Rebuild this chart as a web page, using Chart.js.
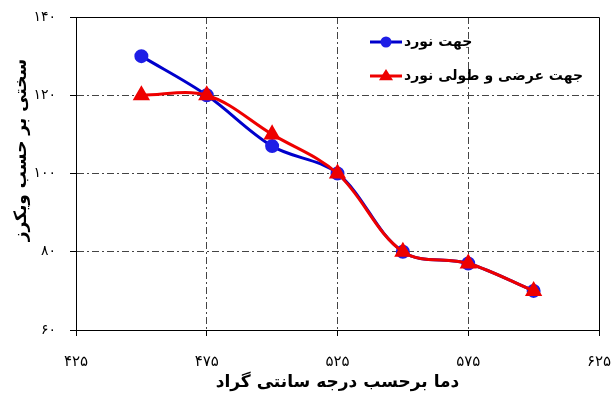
<!DOCTYPE html>
<html>
<head>
<meta charset="utf-8">
<script src="https://cdn.jsdelivr.net/npm/chart.js@4"></script>
<style>
  html, body { margin: 0; padding: 0; background: #fff; }
  #c { display: block; }
</style>
</head>
<body>
<canvas id="c" width="613" height="403"></canvas>
<script>
// ---- data ----
const temperatures = [450, 475, 500, 525, 550, 575, 600];
const rollingDirection = [130, 120, 107, 100, 80, 77, 70];
const transverseLongDirection = [120, 120, 110, 100, 80, 77, 70];
const seriesNames = ['جهت نورد', 'جهت عرضی و طولی نورد'];
const xTickValues = [425, 475, 525, 575, 625];
const xTickLabels = ['۴۲۵', '۴۷۵', '۵۲۵', '۵۷۵', '۶۲۵'];
const yTickValues = [60, 80, 100, 120, 140];
const yTickLabels = ['۶۰', '۸۰', '۱۰۰', '۱۲۰', '۱۴۰'];
const xTitle = 'دما برحسب درجه سانتی گراد';
const yTitle = 'سختی بر حسب ویکرز';

const FONT = "'DejaVu Sans', sans-serif";
const BLUE = '#0000CC';
const RED = '#EE0000';

function pts(xs, ys) { return xs.map((x, i) => ({ x: x, y: ys[i] })); }

const boxPlugin = {
  id: 'box',
  beforeDatasetsDraw(chart) {
    const a = chart.chartArea, ctx = chart.ctx;
    ctx.save();
    ctx.strokeStyle = '#000';
    ctx.lineWidth = 1;
    ctx.beginPath();
    ctx.moveTo(Math.round(a.left) + 0.5, Math.round(a.top) + 0.5);
    ctx.lineTo(Math.round(a.right) + 0.5, Math.round(a.top) + 0.5);
    ctx.lineTo(Math.round(a.right) + 0.5, Math.round(a.bottom) + 0.5);
    ctx.stroke();
    ctx.restore();
  }
};

const annotPlugin = {
  id: 'annot',
  afterDraw(chart) {
    const ctx = chart.ctx;
    ctx.save();
    ctx.translate(22, 150);
    ctx.rotate(-Math.PI / 2);
    ctx.font = 'bold 17px ' + FONT;
    ctx.fillStyle = '#000';
    ctx.textAlign = 'center';
    ctx.textBaseline = 'middle';
    ctx.fillText(yTitle, 0, 0);
    ctx.restore();

    const rows = [
      { ds: chart.data.datasets[1], y: 42 },
      { ds: chart.data.datasets[0], y: 76 }
    ];
    rows.forEach((r) => {
      const ds = r.ds;
      ctx.save();
      ctx.strokeStyle = ds.borderColor;
      ctx.lineWidth = 3;
      ctx.beginPath();
      ctx.moveTo(370, r.y);
      ctx.lineTo(402, r.y);
      ctx.stroke();
      ctx.fillStyle = ds.pointBackgroundColor;
      ctx.beginPath();
      if (ds.pointStyle === 'circle') {
        ctx.arc(386, r.y, 5.5, 0, Math.PI * 2);
      } else {
        const s = 7;
        ctx.moveTo(386, r.y - s);
        ctx.lineTo(386 + s, r.y + s * 0.6);
        ctx.lineTo(386 - s, r.y + s * 0.6);
        ctx.closePath();
      }
      ctx.fill();
      ctx.fillStyle = '#000';
      ctx.font = 'bold 14px ' + FONT;
      ctx.textAlign = 'left';
      ctx.textBaseline = 'middle';
      ctx.fillText(ds.label, 404, r.y);
      ctx.restore();
    });
  }
};

const gridColor = (ends) => (c) => {
  if (c.tick && ends.includes(c.tick.value)) return 'rgba(0,0,0,0)';
  return '#444';
};

new Chart(document.getElementById('c'), {
  type: 'line',
  data: {
    datasets: [
      {
        label: seriesNames[1],
        data: pts(temperatures, transverseLongDirection),
        borderColor: RED,
        backgroundColor: RED,
        pointBackgroundColor: RED,
        pointBorderColor: RED,
        pointStyle: 'triangle',
        pointRadius: 7,
        borderWidth: 3,
        tension: 0.35,
        order: 0
      },
      {
        label: seriesNames[0],
        data: pts(temperatures, rollingDirection),
        borderColor: BLUE,
        backgroundColor: BLUE,
        pointBackgroundColor: '#1E1EE6',
        pointBorderColor: '#1E1EE6',
        pointStyle: 'circle',
        pointRadius: 5.5,
        borderWidth: 3,
        tension: 0.35,
        order: 1
      }
    ]
  },
  options: {
    responsive: false,
    animation: false,
    events: [],
    layout: { padding: { top: 17, right: 14, left: 0, bottom: 0 } },
    plugins: { legend: { display: false }, tooltip: { enabled: false } },
    scales: {
      x: {
        type: 'linear',
        min: 425, max: 625,
        afterBuildTicks(s) { s.ticks = xTickValues.map(v => ({ value: v })); },
        afterFit(s) { s.height = 73; s.paddingLeft = 0; s.paddingRight = 0; },
        ticks: {
          callback: (v) => xTickLabels[xTickValues.indexOf(v)],
          font: { family: FONT, size: 15 },
          color: '#000',
          padding: 17,
          maxRotation: 0,
          autoSkip: false
        },
        grid: {
          color: gridColor([425, 625]),
          tickColor: '#000',
          tickBorderDash: [],
          tickLength: 6,
          lineWidth: 1
        },
        border: { display: true, color: '#000', width: 1, dash: [7, 3, 2, 3] },
        title: {
          display: true,
          text: xTitle,
          font: { family: FONT, size: 17, weight: 'bold' },
          color: '#000',
          padding: { top: 0, bottom: 10 }
        }
      },
      y: {
        type: 'linear',
        min: 60, max: 140,
        afterBuildTicks(s) { s.ticks = yTickValues.map(v => ({ value: v })); },
        afterFit(s) { s.width = 76; s.paddingTop = 0; s.paddingBottom = 0; },
        ticks: {
          callback: (v) => yTickLabels[yTickValues.indexOf(v)],
          font: { family: FONT, size: 14 },
          color: '#000',
          padding: 14
        },
        grid: {
          color: gridColor([60, 140]),
          tickColor: '#000',
          tickBorderDash: [],
          tickLength: 6,
          lineWidth: 1
        },
        border: { display: true, color: '#000', width: 1, dash: [7, 3, 2, 3] }
      }
    }
  },
  plugins: [boxPlugin, annotPlugin]
});
</script>
</body>
</html>
